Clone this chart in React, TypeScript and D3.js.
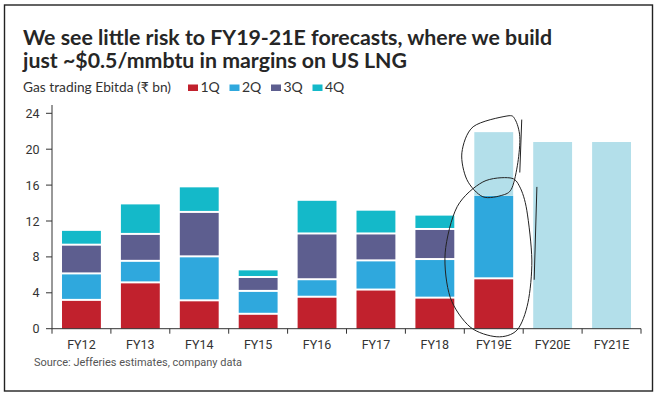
import React from "react";
import * as d3 from "d3";

// chart values (₹ bn)
const categories = ["FY12", "FY13", "FY14", "FY15", "FY16", "FY17", "FY18", "FY19E", "FY20E", "FY21E"];
const q1 = [3.1, 5.05, 3.05, 1.55, 3.45, 4.25, 3.35, 5.5, 0, 0];
const q2 = [2.95, 2.4, 4.9, 2.55, 1.95, 3.25, 4.3, 9.3, 0, 0];
const q3 = [3.2, 3.0, 4.95, 1.55, 5.1, 3.0, 3.35, 0, 0, 0];
const q4 = [1.65, 3.4, 2.85, 0.85, 3.75, 2.65, 1.6, 0, 0, 0];
const estimate = [0, 0, 0, 0, 0, 0, 0, 7.1, 20.8, 20.8];
const yTicks = [0, 4, 8, 12, 16, 20, 24];
const legendLabels = ["1Q", "2Q", "3Q", "4Q"];

const keys = ["q1", "q2", "q3", "q4", "est"];
const colors: Record<string, string> = {
  q1: "#c1212d",
  q2: "#2fa8dd",
  q3: "#5d5e8f",
  q4: "#14b9c9",
  est: "#b3dfea",
};

// hand drawn marks round FY19E: [position across bar (0..1), value]
const upperLoop = [
  [0.84, 23.7], [-0.03, 22.5], [-0.32, 19.6], [-0.19, 16.6], [0.22, 14.7],
  [0.74, 14.9], [0.97, 15.7], [1.12, 18.5], [1.17, 21.4], [1.05, 23.3],
];
const lowerLoop = [
  [0.92, 16.8], [0.22, 16.35], [-0.44, 13.6], [-0.75, 8.45], [-0.62, 3.5],
  [-0.11, 0.2], [0.58, -0.9], [1.1, -0.15], [1.38, 2.9], [1.48, 7.65],
  [1.35, 13.2], [1.17, 15.8],
];
const strokes = [
  [[1.22, 23.3], [1.17, 17.4]],
  [[1.61, 15.8], [1.54, 5.45]],
];

const W = 660;
const H = 398;
const left = 52;
const right = 641;
const base = 328.7;
const top = 113.3;

const table = categories.map((c, i) => ({
  cat: c, q1: q1[i], q2: q2[i], q3: q3[i], q4: q4[i], est: estimate[i],
}));

export default function App() {
  const x = d3.scaleBand().domain(categories).range([left, right]).paddingInner(0.34).paddingOuter(0.17);
  const y = d3.scaleLinear().domain([0, 24]).range([base, top]);
  const series = d3.stack<any>().keys(keys)(table);

  const bx = x("FY19E")!;
  const bw = x.bandwidth();
  const toPx = (p: number[]) => [bx + p[0] * bw, y(p[1])] as [number, number];
  const loop = d3.line().curve(d3.curveCardinalClosed.tension(0.1));
  const straight = d3.line();

  const boundaries = categories.map((c) => x(c)! - (x.step() - bw) / 2).concat([right]);
  const legendFont = "Lato, 'Noto Sans', 'DejaVu Sans', sans-serif";

  return (
    <svg width={W} height={H} style={{ position: "absolute", left: 0, top: 0, background: "#fff" }}>
      <rect x={4.5} y={5} width={648} height={386} fill="#fff" stroke="#222" strokeWidth={1.4} />

      <g fontFamily="Lato, 'Open Sans', sans-serif" fontWeight={700} fontSize={21} fill="#262626">
        <text x={23} y={45} textLength={529} lengthAdjust="spacingAndGlyphs">
          We see little risk to FY19-21E forecasts, where we build
        </text>
        <text x={23} y={68} textLength={384} lengthAdjust="spacingAndGlyphs">
          just ~$0.5/mmbtu in margins on US LNG
        </text>
      </g>

      <g fontFamily={legendFont} fontSize={14} fill="#333">
        <text x={23} y={91.5} textLength={148} lengthAdjust="spacingAndGlyphs">Gas trading Ebitda (₹ bn)</text>
        {legendLabels.map((l, i) => (
          <g key={l} transform={`translate(${188 + i * 41.5},0)`}>
            <rect x={0} y={84.5} width={10} height={6.5} fill={colors[keys[i]]} />
            <text x={12.5} y={91.5}>{l}</text>
          </g>
        ))}
      </g>

      {series.map((s) => (
        <g key={s.key} fill={colors[s.key]}>
          {s.map((d, i) => {
            const v = d[1] - d[0];
            if (v <= 0) return null;
            const gap = d[0] > 0 && s.key !== "est" ? 2 : 0;
            return (
              <rect
                key={i}
                x={x(categories[i])}
                width={bw}
                y={y(d[1])}
                height={Math.max(0, y(d[0]) - y(d[1]) - gap)}
              />
            );
          })}
        </g>
      ))}

      {/* y axis */}
      <g stroke="#333" strokeWidth={1}>
        <line x1={left} x2={left} y1={105} y2={base} />
        {yTicks.map((t) => (
          <line key={t} x1={left - 6} x2={left} y1={y(t)} y2={y(t)} />
        ))}
      </g>
      <g fontFamily="Roboto, 'Noto Sans', sans-serif" fontSize={12.5} fill="#333" textAnchor="end">
        {yTicks.map((t) => (
          <text key={t} x={39.5} y={y(t) + 4.5}>{t}</text>
        ))}
      </g>

      {/* x axis */}
      <g stroke="#333" strokeWidth={1}>
        <line x1={left} x2={right} y1={base} y2={base} />
        {boundaries.map((b, i) => (
          <line key={i} x1={b} x2={b} y1={base} y2={base + 5} />
        ))}
      </g>
      <g fontFamily="Roboto, 'Noto Sans', sans-serif" fontSize={12.5} fill="#333" textAnchor="middle">
        {categories.map((c) => (
          <text key={c} x={x(c)! + bw / 2} y={348.5}>{c}</text>
        ))}
      </g>

      <text x={34} y={365.5} fontFamily="Roboto, 'Noto Sans', sans-serif" fontSize={11.5} fill="#555"
        textLength={208} lengthAdjust="spacingAndGlyphs">
        Source: Jefferies estimates, company data
      </text>

      {/* pen marks */}
      <g fill="none" stroke="#222" strokeWidth={1}>
        <path d={loop(upperLoop.map(toPx))!} />
        <path d={loop(lowerLoop.map(toPx))!} />
        {strokes.map((s, i) => (
          <path key={i} d={straight(s.map(toPx))!} />
        ))}
      </g>
    </svg>
  );
}
